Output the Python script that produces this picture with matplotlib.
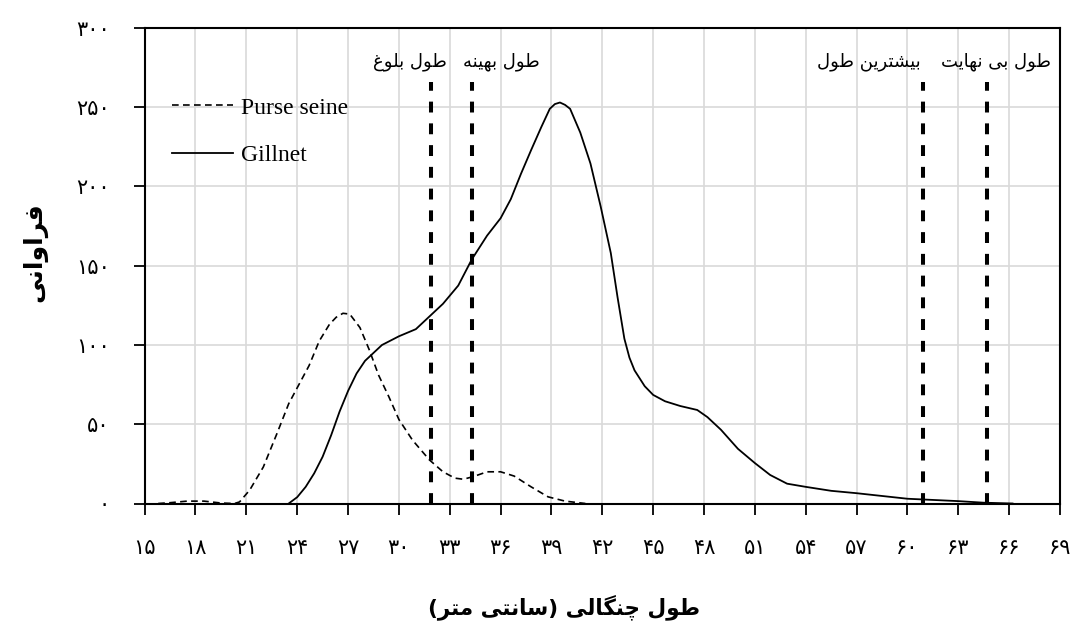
import matplotlib
matplotlib.use('Agg')
import matplotlib.pyplot as plt

# length classes (cm) and frequencies
length_ticks = list(range(15, 70, 3))
freq_ticks = list(range(0, 301, 50))

gill_x = [23.5, 24.0, 24.5, 25.0, 25.5, 26.0, 26.5, 27.0, 27.5, 28.0, 28.5, 29.0,
          30.0, 31.0, 31.8, 32.6, 33.5, 34.3, 35.2, 36.0, 36.6, 37.2, 37.8, 38.4,
          38.9, 39.2, 39.5, 39.8, 40.1, 40.7, 41.3, 41.9, 42.5, 42.9, 43.3, 43.6, 43.9,
          44.5, 45.0, 45.7, 46.6, 47.6, 48.2, 49.0, 50.0, 51.0, 51.9, 52.9, 54.0,
          55.5, 57.0, 60.0, 63.0, 64.5, 66.2]
gill_y = [0, 4, 10.5, 19, 29.5, 43, 58, 71, 82, 90, 95, 100,
          105.5, 110, 118, 126, 137.5, 154, 169, 180, 192, 208, 223, 237.5,
          249, 252, 253, 251.5, 249, 234, 214.5, 187.5, 158, 130, 104, 92, 84,
          74, 68.5, 64.5, 61.5, 59, 54.5, 46.5, 34.5, 25.5, 18, 12.5, 10.5,
          8, 6.5, 3, 1.5, 0.5, 0]

purse_x = [15.8, 16.5, 17.5, 18.5, 19.5, 20.3, 20.6, 21.2, 22.0, 22.8, 23.5, 24.0,
           24.7, 25.3, 25.9, 26.3, 26.7, 27.1, 27.7, 28.25, 28.8, 29.4, 30.0, 30.8,
           31.8, 32.6, 33.3, 33.8, 34.4, 35.2, 36.0, 36.8, 37.8, 38.8, 39.8, 41.0]
purse_y = [0, 0.5, 1.5, 1.5, 0.3, 0, 1, 8.5, 23, 44, 63, 73,
           87, 102.5, 113, 117.5, 120, 119.5, 111, 97, 81, 67.5, 53, 40,
           27.5, 20, 16, 15.3, 17, 20, 20, 17.3, 10.5, 4.2, 1.5, 0]

ref_lengths = [31.9, 34.3, 60.9, 64.7]
ref_names = ['طول بلوغ', 'طول بهینه', 'بیشترین طول', 'طول بی نهایت']
ref_label_right = [32.85, 38.3, 60.8, 68.45]

# contextual forms (isolated, final, initial, medial) for the letters used
FORMS = {
    'ا': ('\uFE8D', '\uFE8E', None, None),
    'ب': ('\uFE8F', '\uFE90', '\uFE91', '\uFE92'),
    'ت': ('\uFE95', '\uFE96', '\uFE97', '\uFE98'),
    'ر': ('\uFEAD', '\uFEAE', None, None),
    'س': ('\uFEB1', '\uFEB2', '\uFEB3', '\uFEB4'),
    'ش': ('\uFEB5', '\uFEB6', '\uFEB7', '\uFEB8'),
    'ط': ('\uFEC1', '\uFEC2', '\uFEC3', '\uFEC4'),
    'غ': ('\uFECD', '\uFECE', '\uFECF', '\uFED0'),
    'ف': ('\uFED1', '\uFED2', '\uFED3', '\uFED4'),
    'ل': ('\uFEDD', '\uFEDE', '\uFEDF', '\uFEE0'),
    'م': ('\uFEE1', '\uFEE2', '\uFEE3', '\uFEE4'),
    'ن': ('\uFEE5', '\uFEE6', '\uFEE7', '\uFEE8'),
    'ه': ('\uFEE9', '\uFEEA', '\uFEEB', '\uFEEC'),
    'و': ('\uFEED', '\uFEEE', None, None),
    '\u06cc': ('\uFBFC', '\uFBFD', '\uFBFE', '\uFBFF'),
    'چ': ('\uFB7A', '\uFB7B', '\uFB7C', '\uFB7D'),
    'گ': ('\uFB92', '\uFB93', '\uFB94', '\uFB95'),
}
MIRROR = {'(': ')', ')': '('}


def fa(text):
    # matplotlib has no arabic shaping, so pick the joined forms by hand
    text = text.replace('\u064a', '\u06cc')
    out = []
    for i, ch in enumerate(text):
        if ch not in FORMS:
            out.append(MIRROR.get(ch, ch))
            continue
        prev = text[i - 1] if i > 0 else ''
        nxt = text[i + 1] if i + 1 < len(text) else ''
        join_prev = prev in FORMS and FORMS[prev][2] is not None
        join_next = FORMS[ch][2] is not None and nxt in FORMS
        iso, fin, ini, med = FORMS[ch]
        if join_prev and join_next:
            out.append(med)
        elif join_prev:
            out.append(fin)
        elif join_next:
            out.append(ini)
        else:
            out.append(iso)
    return ''.join(reversed(out))


def fa_num(n):
    return str(n).translate(str.maketrans('0123456789', '۰۱۲۳۴۵۶۷۸۹'))


fig = plt.figure(figsize=(10.73, 6.25), dpi=100)
ax = fig.add_axes([0.1348, 0.1944, 0.8531, 0.7608])

ax.plot(purse_x, purse_y, color='black', lw=1.2, linestyle=(0, (4, 2.6)), label='Purse seine')
ax.plot(gill_x, gill_y, color='black', lw=1.3, label='Gillnet')

for xv, name, xr in zip(ref_lengths, ref_names, ref_label_right):
    ax.plot([xv, xv], [0, 266], color='black', lw=2.9, linestyle=(0, (2.7, 2.7)))
    ax.text(xr, 279, fa(name), ha='right', va='center', fontsize=13, family='DejaVu Sans')

ax.set_xlim(15, 69)
ax.set_ylim(0, 300)
ax.set_xticks(length_ticks)
ax.set_xticklabels([fa_num(v) for v in length_ticks], fontsize=15, family='DejaVu Sans')
ax.set_yticks(freq_ticks)
ax.set_yticklabels([fa_num(v) for v in freq_ticks], fontsize=15, family='DejaVu Sans')
ax.tick_params(axis='x', direction='out', length=8, width=1.3, pad=17)
ax.tick_params(axis='y', direction='out', length=8, width=1.3, pad=17)
ax.grid(True, color='#d9d9d9', lw=1.2)
ax.set_axisbelow(True)
for sp in ax.spines.values():
    sp.set_linewidth(1.5)

ax.legend(loc='center left', bbox_to_anchor=(0.03, 0.7823), frameon=False,
          prop={'family': 'Liberation Serif', 'size': 17}, handlelength=2.6,
          handletextpad=0.3, labelspacing=1.1, borderpad=0, borderaxespad=0)

fig.text(564 / 1073, 1 - 607 / 625, fa('طول چنگالی (سانتی متر)'), ha='center', va='center',
         fontsize=15.5, fontweight='bold', family='DejaVu Sans')
fig.text(35 / 1073, 1 - 252 / 625, fa('فراوانی'), ha='center', va='center', rotation=90,
         fontsize=18, fontweight='bold', family='DejaVu Sans')

fig.savefig('out.png', dpi=100)
